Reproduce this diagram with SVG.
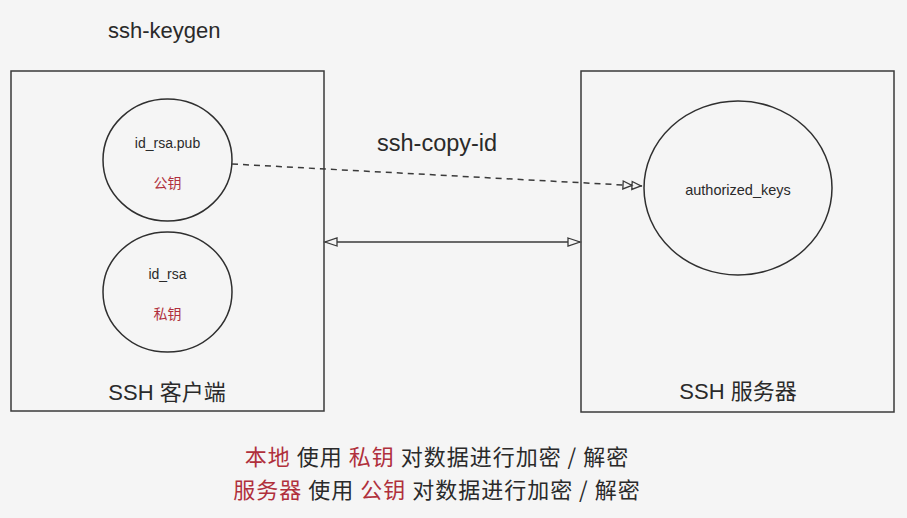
<svg xmlns="http://www.w3.org/2000/svg" width="907" height="518" viewBox="0 0 907 518">
<defs>
<style>
text{font-family:"Liberation Sans","Noto Sans CJK SC",sans-serif;fill:#2a2a2a}
.box{fill:none;stroke:#3a3a3a;stroke-width:1.5}
.circ{fill:none;stroke:#2f2f2f;stroke-width:1.5}
.red{fill:#b0303c}
.conn{fill:none;stroke:#3a3a3a;stroke-width:1.5}
.cjk{font-family:"Noto Sans CJK SC",sans-serif}
</style>
<marker id="dbl" markerWidth="24" markerHeight="12" refX="20" refY="6" orient="auto" markerUnits="userSpaceOnUse">
<path d="M1,2 L10,6 L1,10 Z M10,2 L19,6 L10,10 Z" fill="#f5f5f5" stroke="#3a3a3a" stroke-width="1.3"/>
</marker>
<marker id="tri" markerWidth="16" markerHeight="12" refX="14" refY="6" orient="auto-start-reverse" markerUnits="userSpaceOnUse">
<path d="M2,2 L14,6 L2,10 Z" fill="#f5f5f5" stroke="#3a3a3a" stroke-width="1.3"/>
</marker>
</defs>
<rect width="907" height="518" fill="#f5f5f5"/>
<text x="108" y="38" font-size="22">ssh-keygen</text>
<g id="client">
<rect class="box" x="11" y="71" width="313" height="340"/>
<text x="167" y="400" font-size="22" text-anchor="middle">SSH <tspan class="cjk">客户端</tspan></text>
</g>
<g id="pub">
<ellipse class="circ" cx="167.5" cy="160" rx="64.5" ry="61"/>
<text x="167.5" y="148" font-size="14" text-anchor="middle">id_rsa.pub</text>
<text x="167.5" y="188" font-size="14" text-anchor="middle" class="red cjk">公钥</text>
</g>
<g id="priv">
<ellipse class="circ" cx="167.5" cy="292" rx="64.5" ry="60"/>
<text x="167.5" y="279" font-size="14" text-anchor="middle">id_rsa</text>
<text x="167.5" y="319" font-size="14" text-anchor="middle" class="red cjk">私钥</text>
</g>
<g id="server">
<rect class="box" x="581" y="71" width="313" height="341"/>
<text x="738" y="399" font-size="22" text-anchor="middle">SSH <tspan class="cjk">服务器</tspan></text>
</g>
<g id="authkeys">
<ellipse class="circ" cx="738" cy="188" rx="94" ry="87"/>
<text x="738" y="195" font-size="14.5" text-anchor="middle">authorized_keys</text>
</g>
<g id="connectors">
<path class="conn" d="M232,164 L642,186" stroke-dasharray="6,5" marker-end="url(#dbl)"/>
<path class="conn" d="M325,242 L580,242" marker-start="url(#tri)" marker-end="url(#tri)"/>
<text x="377" y="151" font-size="23.5">ssh-copy-id</text>
</g>
<g id="notes" font-size="22" letter-spacing="1">
<text x="437" y="465" text-anchor="middle" class="cjk"><tspan class="red">本地</tspan> 使用 <tspan class="red">私钥</tspan> 对数据进行加密 / 解密</text>
<text x="437" y="498" text-anchor="middle" class="cjk"><tspan class="red">服务器</tspan> 使用 <tspan class="red">公钥</tspan> 对数据进行加密 / 解密</text>
</g>
</svg>
